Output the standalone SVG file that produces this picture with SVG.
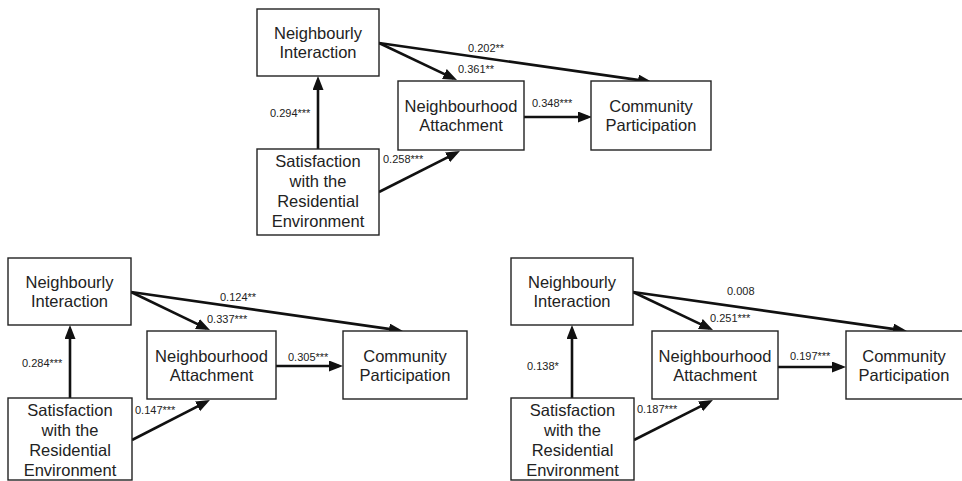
<svg xmlns="http://www.w3.org/2000/svg" width="962" height="481" viewBox="0 0 962 481">
<defs>
<marker id="ah" markerUnits="userSpaceOnUse" markerWidth="15" markerHeight="12" refX="10" refY="5.5" orient="auto">
<path d="M0,0 L14,5.5 L0,11 z" fill="#111"/>
</marker>
<style>
.box{fill:#fff;stroke:#222;stroke-width:1.4}
.nt{font-family:"Liberation Sans",Arial,sans-serif;font-size:16.5px;fill:#222;text-anchor:middle}
.lb{font-family:"Liberation Sans",Arial,sans-serif;font-size:11px;fill:#222}
.ar{stroke:#111;stroke-width:2.6;fill:none;marker-end:url(#ah)}
</style>
</defs>
<rect width="962" height="481" fill="#fff"/>
<g id="connectors">
<line class="ar" x1="318" y1="149" x2="318" y2="80"/>
<line class="ar" x1="379" y1="43" x2="453.4" y2="78.3"/>
<line class="ar" x1="379" y1="43" x2="648" y2="81.4"/>
<line class="ar" x1="524" y1="117" x2="588" y2="117"/>
<line class="ar" x1="379" y1="192" x2="456.4" y2="152.8"/>
<line class="ar" x1="70" y1="398" x2="70" y2="329"/>
<line class="ar" x1="131" y1="292" x2="206.4" y2="328.3"/>
<line class="ar" x1="131" y1="292" x2="399" y2="330.4"/>
<line class="ar" x1="276" y1="366" x2="339" y2="366"/>
<line class="ar" x1="132" y1="440" x2="206.4" y2="401.8"/>
<line class="ar" x1="572" y1="398" x2="572" y2="329"/>
<line class="ar" x1="633" y1="292" x2="709.4" y2="328.3"/>
<line class="ar" x1="633" y1="292" x2="903" y2="330.4"/>
<line class="ar" x1="778" y1="367" x2="842" y2="367"/>
<line class="ar" x1="634" y1="440" x2="709.4" y2="401.8"/>
<text class="lb" x="468" y="52">0.202**</text>
<text class="lb" x="458" y="73">0.361**</text>
<text class="lb" x="532" y="107">0.348***</text>
<text class="lb" x="270" y="117">0.294***</text>
<text class="lb" x="383" y="163">0.258***</text>
<text class="lb" x="220" y="301">0.124**</text>
<text class="lb" x="207" y="323">0.337***</text>
<text class="lb" x="288" y="361">0.305***</text>
<text class="lb" x="22" y="367">0.284***</text>
<text class="lb" x="135" y="414">0.147***</text>
<text class="lb" x="727" y="295">0.008</text>
<text class="lb" x="710" y="322">0.251***</text>
<text class="lb" x="790" y="360">0.197***</text>
<text class="lb" x="527" y="370">0.138*</text>
<text class="lb" x="637" y="413">0.187***</text>
</g>
<g id="t_ni">
<rect class="box" x="257" y="9" width="122" height="67"/>
<text class="nt" x="318" y="39">Neighbourly</text>
<text class="nt" x="318" y="58">Interaction</text>
</g>
<g id="t_sat">
<rect class="box" x="257" y="149" width="122" height="86"/>
<text class="nt" x="318" y="167">Satisfaction</text>
<text class="nt" x="318" y="187">with the</text>
<text class="nt" x="318" y="207">Residential</text>
<text class="nt" x="318" y="227">Environment</text>
</g>
<g id="t_na">
<rect class="box" x="398" y="81" width="126" height="69"/>
<text class="nt" x="461" y="112">Neighbourhood</text>
<text class="nt" x="461" y="131">Attachment</text>
</g>
<g id="t_cp">
<rect class="box" x="591" y="81" width="120" height="69"/>
<text class="nt" x="651" y="112">Community</text>
<text class="nt" x="651" y="131">Participation</text>
</g>
<g id="l_ni">
<rect class="box" x="8" y="258" width="123" height="67"/>
<text class="nt" x="69.5" y="288">Neighbourly</text>
<text class="nt" x="69.5" y="307">Interaction</text>
</g>
<g id="l_sat">
<rect class="box" x="8" y="398" width="124" height="82"/>
<text class="nt" x="70" y="416">Satisfaction</text>
<text class="nt" x="70" y="436">with the</text>
<text class="nt" x="70" y="456">Residential</text>
<text class="nt" x="70" y="476">Environment</text>
</g>
<g id="l_na">
<rect class="box" x="147" y="331" width="129" height="68"/>
<text class="nt" x="211.5" y="362">Neighbourhood</text>
<text class="nt" x="211.5" y="381">Attachment</text>
</g>
<g id="l_cp">
<rect class="box" x="343" y="331" width="124" height="68"/>
<text class="nt" x="405" y="362">Community</text>
<text class="nt" x="405" y="381">Participation</text>
</g>
<g id="r_ni">
<rect class="box" x="511" y="258" width="122" height="67"/>
<text class="nt" x="572" y="288">Neighbourly</text>
<text class="nt" x="572" y="307">Interaction</text>
</g>
<g id="r_sat">
<rect class="box" x="511" y="398" width="123" height="82"/>
<text class="nt" x="572.5" y="416">Satisfaction</text>
<text class="nt" x="572.5" y="436">with the</text>
<text class="nt" x="572.5" y="456">Residential</text>
<text class="nt" x="572.5" y="476">Environment</text>
</g>
<g id="r_na">
<rect class="box" x="652" y="331" width="126" height="68"/>
<text class="nt" x="715" y="362">Neighbourhood</text>
<text class="nt" x="715" y="381">Attachment</text>
</g>
<g id="r_cp">
<rect class="box" x="846" y="331" width="130" height="68"/>
<text class="nt" x="904" y="362">Community</text>
<text class="nt" x="904" y="381">Participation</text>
</g>
</svg>
